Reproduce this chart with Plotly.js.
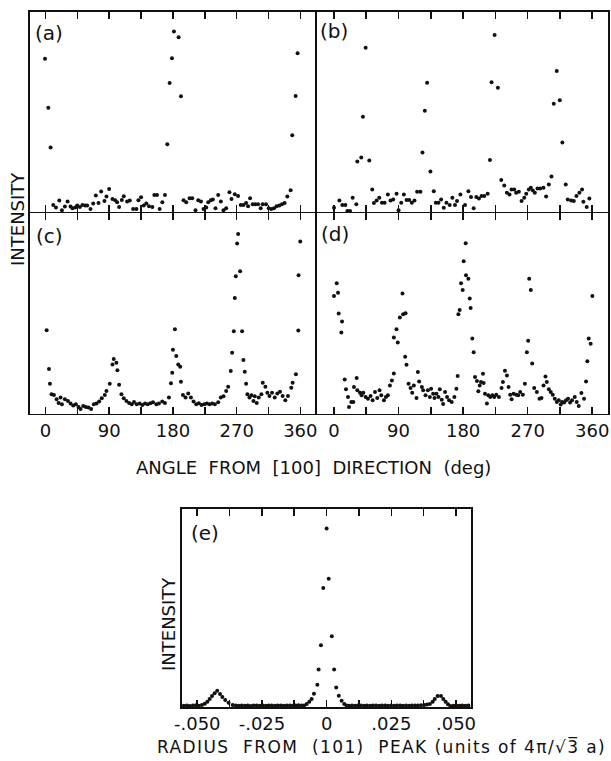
<!DOCTYPE html>
<html>
<head>
<meta charset="utf-8">
<script src="https://cdn.plot.ly/plotly-3.0.1.min.js"></script>
<style>
  html, body { margin: 0; padding: 0; background: #fff; }
  #chart { width: 611px; height: 761px; }
</style>
</head>
<body>
<div id="chart"></div>
<script>
// ---- (a) angular scan ----
const angleA = [-0.8,3.9,7.1,10.9,14.7,19.4,23.1,27.3,31.1,35.3,38.1,41.9,44.7,48.5,52.2,56.0,58.8,63.5,67.3,71.0,74.8,78.5,83.2,86.0,89.8,94.5,98.3,101.1,103.9,107.7,110.5,115.2,119.0,123.7,128.3,131.2,134.9,138.7,142.4,146.2,150.9,153.7,157.5,161.2,165.0,168.7,172.0,175.3,178.6,181.4,188.0,191.3,195.0,198.8,203.5,207.2,211.9,215.7,219.5,223.2,227.0,229.8,233.5,236.4,240.1,243.9,247.7,251.4,255.2,259.8,262.7,267.4,272.0,275.8,279.6,283.3,286.1,289.0,292.7,296.5,300.3,304.0,306.8,311.5,315.3,319.0,322.8,326.5,330.3,334.0,337.8,341.6,346.3,348.6,353.3,356.1];
const intenA = [76.6,52.0,32.2,3.4,2.1,5.6,0.7,2.6,5.1,2.6,1.7,2.1,3.1,2.4,3.4,3.1,3.1,1.4,4.1,8.1,4.4,10.1,5.4,7.6,11.4,6.4,5.7,4.7,2.4,5.9,7.7,5.1,5.6,1.4,1.4,5.7,7.2,3.1,4.1,2.7,2.4,8.4,8.4,1.4,4.7,8.4,33.8,64.4,76.9,90.2,87.4,57.8,5.7,4.7,6.7,6.7,0.7,5.7,5.1,1.4,2.1,4.7,5.7,6.1,1.7,8.4,5.1,0.7,1.7,9.7,6.4,8.7,7.9,3.4,3.4,4.4,2.7,6.7,3.7,3.7,3.7,1.7,3.7,3.7,1.7,1.4,1.7,2.7,3.1,3.7,4.4,7.6,10.7,38.3,57.9,79.4];

// ---- (b) angular scan ----
const angleB = [0.0,7.5,11.6,15.8,18.6,22.3,26.0,31.1,32.5,38.0,40.3,44.1,49.2,53.3,55.6,59.4,63.1,66.8,70.5,75.1,78.8,82.5,87.2,90.0,93.7,97.4,101.1,104.8,108.5,112.2,115.9,120.5,123.3,126.6,129.8,134.4,139.1,141.9,145.6,149.3,153.0,156.7,161.3,165.0,168.7,171.5,176.2,182.7,187.3,191.0,194.7,198.4,202.1,205.8,209.5,214.2,217.4,219.7,223.9,228.5,233.2,237.3,241.0,244.7,247.5,251.2,254.0,257.7,261.5,265.2,268.0,271.6,274.4,277.2,280.0,283.7,287.4,292.0,295.7,299.5,303.2,306.4,310.5,314.8,318.4,323.1,325.9,330.6,334.3,338.0,342.1,345.8,347.7,352.3,356.0];
const intenB = [2.0,5.6,3.3,3.3,0.3,0.3,7.0,3.7,25.2,27.2,47.5,82.1,25.6,11.1,4.3,5.6,7.0,4.5,4.5,8.6,5.6,6.1,9.0,0.7,4.5,8.6,5.8,5.8,4.5,5.6,10.0,10.0,29.6,50.5,64.6,20.1,10.3,4.5,4.5,6.1,2.0,4.5,3.3,7.0,3.3,5.3,8.6,3.3,10.3,7.3,1.7,7.3,6.6,7.8,7.8,9.0,25.9,64.8,88.5,62.1,15.9,13.1,9.5,8.6,11.1,11.1,9.5,10.0,5.3,7.0,9.0,11.1,12.0,10.6,9.5,11.6,11.6,12.0,7.6,13.6,17.6,54.0,70.4,55.8,34.6,13.6,6.1,5.6,5.3,7.8,9.5,11.1,5.0,2.3,6.6];

// ---- (c) angular scan ----
const angleC = [1.5,4.8,6.2,8.5,11.8,15.6,18.4,21.2,23.1,27.3,31.6,35.3,39.1,42.8,46.6,49.4,53.2,56.9,60.7,64.4,68.2,71.9,75.7,79.4,83.7,86.0,90.7,94.5,96.3,100.1,101.5,103.9,107.2,110.5,114.2,118.0,121.8,125.0,128.8,133.0,136.8,140.5,144.3,148.0,151.8,156.5,160.2,164.9,168.7,174.3,177.2,179.0,180.0,182.8,184.7,187.5,190.3,191.3,194.1,197.8,201.6,205.4,209.1,212.9,216.6,220.4,224.2,227.9,231.7,235.4,239.2,243.9,247.6,251.4,255.2,258.0,261.7,263.6,266.0,267.4,268.8,270.7,272.1,274.9,277.7,279.6,281.5,283.4,285.2,288.1,290.9,293.7,295.6,298.4,301.2,305.0,306.9,310.6,313.4,316.3,320.0,323.8,327.5,331.3,335.0,338.8,342.5,347.2,349.1,353.8,357.1,357.5,359.9];
const intenC = [41.6,22.2,14.9,9.6,9.3,7.1,5.3,8.0,4.6,7.1,6.3,5.0,4.0,4.6,3.3,2.2,3.8,3.3,3.0,2.2,4.6,5.0,6.0,7.6,9.3,11.3,14.9,24.5,27.2,25.4,21.6,14.3,9.6,7.6,6.3,5.3,4.6,5.8,4.6,5.0,4.3,5.0,4.6,5.1,5.6,4.6,5.0,6.0,5.3,8.0,15.1,20.4,31.8,42.1,28.7,24.5,23.4,15.8,9.3,8.0,10.0,8.0,6.0,4.6,5.1,4.3,4.6,5.0,4.6,5.0,4.6,5.6,8.0,8.6,11.3,13.3,21.2,30.3,41.1,57.7,68.5,84.9,89.7,71.0,41.1,26.7,20.9,14.9,9.6,8.0,9.1,6.3,8.6,5.3,8.0,9.6,15.4,13.3,10.4,8.8,10.4,8.0,10.0,10.9,8.8,6.6,8.8,12.9,15.4,19.6,41.5,69.0,85.9];

// ---- (d) angular scan ----
const angleD = [0.0,3.8,5.6,6.5,10.2,11.2,14.9,16.7,19.5,20.9,24.1,26.9,27.8,31.6,32.5,36.2,38.5,40.8,44.1,47.3,51.0,53.8,57.1,60.3,63.5,65.9,69.6,72.4,75.1,77.9,80.7,83.4,83.4,87.1,88.9,91.8,95.5,96.4,99.2,99.7,101.1,103.9,106.7,109.0,111.3,115.0,116.9,118.7,122.5,124.3,127.6,130.8,133.6,135.4,138.2,140.1,142.8,145.6,147.5,150.2,152.1,154.8,157.6,160.4,164.1,167.8,170.6,172.4,173.4,175.2,177.1,179.4,180.8,183.6,184.0,187.3,189.2,190.5,192.8,194.7,196.6,199.3,201.2,203.1,204.9,207.7,208.6,210.5,213.2,215.1,217.9,220.7,223.4,226.2,229.9,233.6,235.5,238.3,241.1,243.4,245.7,247.6,250.4,254.0,256.8,259.6,263.3,266.1,268.9,270.7,272.1,274.4,276.3,279.1,282.8,286.5,289.3,292.1,294.8,296.7,299.5,302.2,305.0,307.8,310.6,313.4,316.1,318.0,320.8,323.5,326.3,329.1,331.9,335.6,338.4,341.2,344.9,348.6,351.4,353.2,355.1,357.8,360.2];
const intenD = [58.7,65.0,60.3,49.9,40.5,46.0,17.0,12.1,8.3,3.3,5.8,5.8,13.2,17.7,11.6,10.4,9.1,10.4,8.3,7.4,8.8,6.6,10.7,7.8,11.6,9.1,6.6,8.3,9.1,14.0,16.5,20.0,38.0,42.1,35.5,47.9,60.0,49.6,28.4,50.1,24.3,14.9,12.7,10.4,14.0,7.8,20.7,16.0,13.2,11.6,9.1,11.6,8.3,12.4,9.9,7.8,9.9,8.3,12.1,6.9,4.8,10.7,8.3,6.6,5.8,8.3,12.4,18.7,49.6,51.7,65.0,61.7,76.0,85.1,69.1,67.3,57.4,52.7,37.5,30.6,18.2,16.2,11.1,14.0,15.7,19.8,15.2,9.9,5.0,9.1,8.3,9.1,8.3,9.4,8.3,12.7,15.7,21.3,19.0,13.2,9.4,7.1,9.9,9.4,9.1,10.7,9.4,14.9,30.6,36.4,67.3,61.7,25.0,12.7,10.7,7.4,7.8,14.0,18.5,15.7,12.1,10.7,9.4,7.4,5.8,6.6,4.5,5.8,5.5,6.6,7.4,5.5,6.6,8.3,5.8,3.8,10.2,7.4,16.0,26.1,37.5,34.9,58.7];

// ---- (e) radial scan through the (101) peak ----
const radiusE = [-0.0552,-0.0540,-0.0529,-0.0517,-0.0505,-0.0494,-0.0482,-0.0471,-0.0461,-0.0452,-0.0443,-0.0433,-0.0423,-0.0412,-0.0403,-0.0392,-0.0379,-0.0363,-0.0351,-0.0340,-0.0328,-0.0316,-0.0305,-0.0293,-0.0282,-0.0270,-0.0258,-0.0247,-0.0235,-0.0224,-0.0212,-0.0200,-0.0189,-0.0177,-0.0166,-0.0154,-0.0142,-0.0131,-0.0119,-0.0108,-0.0096,-0.0087,-0.0077,-0.0067,-0.0058,-0.0049,-0.0036,-0.0031,-0.0022,-0.0013,0.0000,0.0008,0.0020,0.0029,0.0037,0.0047,0.0058,0.0068,0.0077,0.0087,0.0098,0.0110,0.0121,0.0133,0.0145,0.0156,0.0168,0.0179,0.0191,0.0203,0.0214,0.0226,0.0237,0.0249,0.0261,0.0272,0.0284,0.0295,0.0307,0.0319,0.0330,0.0342,0.0353,0.0365,0.0377,0.0388,0.0399,0.0410,0.0418,0.0429,0.0442,0.0451,0.0460,0.0469,0.0478,0.0490,0.0501,0.0513,0.0524,0.0536,0.0548];
const intenE = [0.6,0.8,0.5,0.7,0.9,0.6,1.0,1.6,2.7,4.0,5.6,6.9,8.2,6.6,5.1,3.5,2.2,1.0,0.7,0.6,0.8,0.6,0.7,0.5,0.7,0.8,0.6,0.7,0.6,0.8,0.7,0.6,0.8,0.7,0.6,0.7,0.8,0.6,0.7,0.9,0.8,0.7,1.5,2.7,4.0,6.7,11.3,18.9,31.2,60.1,90.1,64.8,35.7,18.9,9.8,5.7,3.2,1.5,0.7,0.6,0.7,0.6,0.8,0.7,0.6,0.7,0.6,0.8,0.7,0.6,0.7,0.8,0.6,0.7,0.6,0.7,0.8,0.6,0.7,0.6,0.7,0.8,0.7,0.9,1.0,1.2,1.5,2.7,4.0,5.6,5.6,4.0,2.7,1.4,0.5,0.6,0.7,0.6,0.8,0.6,0.7];

// ---- tick labels ----
const angleTicks = [0,45,90,135,180,225,270,315,360];
const angleTickText = ['0','','90','','180','','270','','360'];
const radiusTicks = [-0.05,-0.0375,-0.025,-0.0125,0,0.0125,0.025,0.0375,0.05];
const radiusTickText = ['-.050','','-.025','','0','','.025','','.050'];

// ---- layout helpers (page is 611 x 761 px, no margins) ----
const W = 611, H = 761;
const px = x => x / W;
const py = y => 1 - y / H;
const FONT = 'DejaVu Sans, sans-serif';
const INK = '#111';
const LW = 1.6;

// Axis lines sit half a line width outside each plot area, so neighbouring
// panels are pulled apart by one line width to share a single divider.
const colL = [px(30), px(316 - LW / 2)], colR = [px(316 + LW / 2), px(608)];
const rowT = [py(212.5 - LW / 2), py(12)], rowB = [py(413.5), py(212.5 + LW / 2)];

function xAxis(domain, range, anchor, vals, text, showLabels) {
  return {
    domain, range, anchor,
    showgrid: false, zeroline: false,
    showline: true, linecolor: INK, linewidth: LW, mirror: 'ticks',
    ticks: 'inside', ticklen: 7, tickwidth: LW, tickcolor: INK,
    tickmode: 'array', tickvals: vals, ticktext: text,
    showticklabels: showLabels,
    tickfont: {family: FONT, size: 18, color: INK}
  };
}
function yAxis(domain, anchor) {
  return {
    domain, range: [0, 100], anchor,
    showgrid: false, zeroline: false,
    showline: true, linecolor: INK, linewidth: LW, mirror: true,
    ticks: '', showticklabels: false
  };
}

const marker = {color: INK, size: 4};
const traces = [
  {x: angleA, y: intenA, xaxis: 'x', yaxis: 'y'},
  {x: angleB, y: intenB, xaxis: 'x2', yaxis: 'y2'},
  {x: angleC, y: intenC, xaxis: 'x3', yaxis: 'y3'},
  {x: angleD, y: intenD, xaxis: 'x4', yaxis: 'y4'},
  {x: radiusE, y: intenE, xaxis: 'x5', yaxis: 'y5'}
].map(t => Object.assign({type: 'scatter', mode: 'markers', marker, hoverinfo: 'skip', cliponaxis: false}, t));

function label(text, x, y, size, angle) {
  return {
    text, xref: 'paper', yref: 'paper', x: px(x), y: py(y),
    xanchor: 'center', yanchor: 'middle', showarrow: false,
    textangle: angle || 0,
    font: {family: FONT, size: size, color: INK}
  };
}
const nb = '\u00a0';
const spaced = s => '<span style="letter-spacing:1.4px">' + s + '</span>';

const layout = {
  width: W, height: H,
  margin: {l: 0, r: 0, t: 0, b: 0},
  paper_bgcolor: '#fff', plot_bgcolor: '#fff',
  showlegend: false,
  xaxis:  xAxis(colL, [-22, 381], 'y',  angleTicks, angleTickText, false),
  xaxis2: xAxis(colR, [-24, 382], 'y2', angleTicks, angleTickText, false),
  xaxis3: xAxis(colL, [-22, 381], 'y3', angleTicks, angleTickText, true),
  xaxis4: xAxis(colR, [-24, 382], 'y4', angleTicks, angleTickText, true),
  xaxis5: xAxis([px(182), px(471)], [-0.0559, 0.0558], 'y5', radiusTicks, radiusTickText, true),
  yaxis:  yAxis(rowT, 'x'),
  yaxis2: yAxis(rowT, 'x2'),
  yaxis3: yAxis(rowB, 'x3'),
  yaxis4: yAxis(rowB, 'x4'),
  yaxis5: yAxis([py(707), py(509)], 'x5'),
  annotations: [
    label('(a)', 49, 33, 20),
    label('(b)', 334, 31, 20),
    label('(c)', 49, 236, 20),
    label('(d)', 335, 234, 20),
    label('(e)', 205, 533, 20),
    label('INTENSITY', 17, 219, 18, -90),
    label('INTENSITY', 168, 624, 18, -90),
    label('ANGLE' + nb + nb + 'FROM' + nb + nb + '[100]' + nb + nb + 'DIRECTION' + nb + nb + '(deg)', 313, 467, 18),
    label(spaced('RADIUS' + nb + nb + 'FROM' + nb + nb + '(101)' + nb + nb + 'PEAK' + nb + '(units of 4\u03c0/\u221a3\u0305 a)'), 381, 746, 17)
  ]
};

Plotly.newPlot('chart', traces, layout, {staticPlot: true, displayModeBar: false});
</script>
</body>
</html>
